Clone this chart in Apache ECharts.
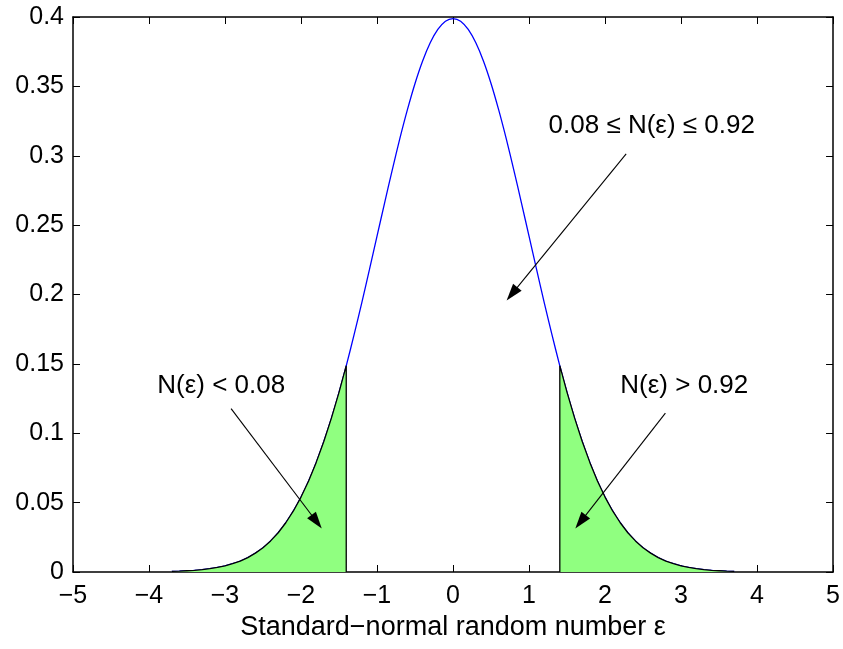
<!DOCTYPE html>
<html><head><meta charset="utf-8">
<script src="https://cdn.jsdelivr.net/npm/echarts@6/dist/echarts.min.js"></script>
<style>html,body{margin:0;padding:0;background:#fff}#c{width:843px;height:649px}</style>
</head><body><div id="c"></div>
<script>
// Curve samples (epsilon, density)
var xVals = [-3.7,-3.6,-3.5,-3.4,-3.3,-3.2,-3.1,-3.0,-2.9,-2.8,-2.7,-2.6,-2.5,-2.4,-2.3,-2.2,-2.1,-2.0,-1.9,-1.8,-1.7,-1.6,-1.5,-1.4,-1.3,-1.2,-1.1,-1.0,-0.9,-0.8,-0.7,-0.6,-0.5,-0.4,-0.3,-0.2,-0.1,0,
  0.1,0.2,0.3,0.4,0.5,0.6,0.7,0.8,0.9,1.0,1.1,1.2,1.3,1.4,1.5,1.6,1.7,1.8,1.9,2.0,2.1,2.2,2.3,2.4,2.5,2.6,2.7,2.8,2.9,3.0,3.1,3.2,3.3,3.4,3.5,3.6,3.7];
var yVals = [0.0004,0.0006,0.0009,0.0012,0.0017,0.0024,0.0033,0.0044,0.0060,0.0079,0.0104,0.0136,0.0175,0.0224,0.0283,0.0355,0.0440,0.0540,0.0656,0.0790,0.0940,0.1109,0.1295,0.1497,0.1714,0.1942,0.2179,0.2420,0.2661,0.2897,0.3123,0.3332,0.3521,0.3683,0.3814,0.3910,0.3970,0.3989,
  0.3970,0.3910,0.3814,0.3683,0.3521,0.3332,0.3123,0.2897,0.2661,0.2420,0.2179,0.1942,0.1714,0.1497,0.1295,0.1109,0.0940,0.0790,0.0656,0.0540,0.0440,0.0355,0.0283,0.0224,0.0175,0.0136,0.0104,0.0079,0.0060,0.0044,0.0033,0.0024,0.0017,0.0012,0.0009,0.0006,0.0004];
// Cut-offs of the shaded tails
var cutoffX = [-1.405, 1.405];
var cutoffY = 0.1487;
// Annotations
var annoTexts = ['0.08 \u2264 N(\u03b5) \u2264 0.92', 'N(\u03b5) < 0.08', 'N(\u03b5) > 0.92'];
var annoPos = [[2.615, 0.3217], [-3.05, 0.1345], [3.043, 0.1345]];
var arrowStart = [[2.278, 0.3013], [-2.92, 0.1177], [2.794, 0.1145]];
var arrowEnd = [[0.705, 0.1957], [-1.727, 0.0313], [1.609, 0.0313]];
var xTicks = {min: -5, max: 5, interval: 1};
var yTicks = {min: 0, max: 0.4, interval: 0.05};
var xTitle = 'Standard\u2212normal random number \u03b5';

var curve = xVals.map(function (x, i) { return [x, yVals[i]]; });
var leftTail = curve.filter(function (p) { return p[0] <= cutoffX[0]; });
leftTail.push([cutoffX[0], cutoffY], [cutoffX[0], 0]);
var rightTail = [[cutoffX[1], 0], [cutoffX[1], cutoffY]].concat(curve.filter(function (p) { return p[0] >= cutoffX[1]; }));

var FONT = 'Liberation Sans, Arial, Helvetica, sans-serif';
var FS = 25;
var HEAD = [11, 17];
function minus(v) { return String(v).replace('-', '\u2212'); }

var chart = echarts.init(document.getElementById('c'), null, {renderer: 'canvas'});
var axisCommon = {
  axisLine: {show: true, onZero: false, lineStyle: {color: '#000', width: 1.5}},
  axisTick: {show: true, inside: true, length: 7, lineStyle: {color: '#000', width: 1}},
  splitLine: {show: false}
};
function markData(ends) {
  return arrowStart.map(function (s, i) { return [{coord: s, symbol: 'none'}, {coord: ends[i], symbol: 'triangle'}]; });
}
chart.setOption({
  animation: false,
  backgroundColor: '#fff',
  grid: {left: 73, right: 7, top: 17, bottom: 77, containLabel: false},
  xAxis: [
    Object.assign({type: 'value', position: 'bottom', min: xTicks.min, max: xTicks.max, interval: xTicks.interval,
      axisLabel: {color: '#000', fontFamily: FONT, fontSize: FS, margin: 12, formatter: minus},
      name: xTitle, nameLocation: 'middle', nameGap: 40,
      nameTextStyle: {color: '#000', fontFamily: FONT, fontSize: 27}}, axisCommon),
    Object.assign({type: 'value', position: 'top', min: xTicks.min, max: xTicks.max, interval: xTicks.interval,
      axisLabel: {show: false}}, axisCommon)
  ],
  yAxis: [
    Object.assign({type: 'value', position: 'left', min: yTicks.min, max: yTicks.max, interval: yTicks.interval,
      axisLabel: {color: '#000', fontFamily: FONT, fontSize: FS, margin: 9}}, axisCommon),
    Object.assign({type: 'value', position: 'right', min: yTicks.min, max: yTicks.max, interval: yTicks.interval,
      axisLabel: {show: false}}, axisCommon)
  ],
  series: [
    {type: 'line', data: curve, showSymbol: false, smooth: 0.3,
      lineStyle: {color: '#0000ff', width: 1.3}, z: 2},
    {type: 'line', data: leftTail, showSymbol: false, smooth: false,
      lineStyle: {color: '#000', width: 1.3}, areaStyle: {color: '#90ff80', opacity: 1}, z: 3},
    {type: 'line', data: rightTail, showSymbol: false, smooth: false,
      lineStyle: {color: '#000', width: 1.3}, areaStyle: {color: '#90ff80', opacity: 1}, z: 3},
    {type: 'scatter', data: annoPos.map(function (p, i) { return {value: p, name: annoTexts[i]}; }),
      symbolSize: 0, z: 5, itemStyle: {opacity: 1},
      label: {show: true, position: 'inside', color: '#000', fontFamily: FONT, fontSize: 26,
        formatter: function (p) { return p.name; }},
      markLine: {silent: true, animation: false, symbol: ['none', 'triangle'], symbolSize: HEAD,
        lineStyle: {color: '#000', width: 1.1, type: 'solid', opacity: 1}, label: {show: false},
        data: markData(arrowEnd)}
    }
  ]
});
// The triangle symbol is centred on the line end; pull the end back so the tip sits on the target point.
var adjEnds = arrowEnd.map(function (e, i) {
  var a = chart.convertToPixel({gridIndex: 0}, arrowStart[i]);
  var b = chart.convertToPixel({gridIndex: 0}, e);
  var dx = b[0] - a[0], dy = b[1] - a[1], L = Math.sqrt(dx * dx + dy * dy);
  var k = HEAD[1] / 2 / L;
  return chart.convertFromPixel({gridIndex: 0}, [b[0] - dx * k, b[1] - dy * k]);
});
chart.setOption({series: [{}, {}, {}, {markLine: {data: markData(adjEnds)}}]});
</script>
</body></html>
